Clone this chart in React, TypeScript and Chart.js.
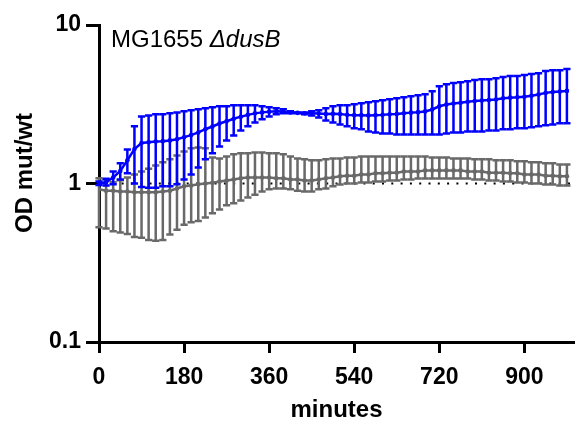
import React, { useEffect, useRef } from "react";
import { Chart, registerables } from "chart.js";

Chart.register(...registerables);

// ---- data ----
const minutes = [
  0, 15, 30, 45, 60, 75, 90, 105, 120, 135, 150, 165, 180, 195, 210, 225, 240, 255, 270, 285,
  300, 315, 330, 345, 360, 375, 390, 405, 420, 435, 450, 465, 480, 495, 510, 525, 540, 555, 570, 585,
  600, 615, 630, 645, 660, 675, 690, 705, 720, 735, 750, 765, 780, 795, 810, 825, 840, 855, 870, 885,
  900, 915, 930, 945, 960, 975, 990,
];

const dusBMean = [
  1.0, 1.02, 1.09, 1.2, 1.4, 1.65, 1.8, 1.82, 1.84, 1.85,
  1.87, 1.9, 1.96, 2.02, 2.1, 2.2, 2.29, 2.39, 2.47, 2.56,
  2.64, 2.71, 2.77, 2.81, 2.84, 2.86, 2.85, 2.81, 2.79, 2.77,
  2.77, 2.76, 2.74, 2.75, 2.74, 2.71, 2.7, 2.7, 2.69, 2.7,
  2.71, 2.73, 2.74, 2.77, 2.8, 2.82, 2.85, 2.93, 3.07, 3.15,
  3.2, 3.23, 3.28, 3.31, 3.34, 3.36, 3.39, 3.45, 3.48, 3.5,
  3.53, 3.58, 3.64, 3.73, 3.78, 3.8, 3.84,
];
const dusBUpper = [
  1.03, 1.07, 1.19, 1.34, 1.64, 2.3, 2.65, 2.69, 2.73, 2.73,
  2.77, 2.81, 2.86, 2.9, 2.94, 2.98, 3.03, 3.07, 3.07, 3.12,
  3.12, 3.12, 3.12, 3.07, 3.03, 2.98, 2.94, 2.86, 2.81, 2.81,
  2.86, 2.9, 2.98, 3.07, 3.12, 3.12, 3.16, 3.21, 3.26, 3.3,
  3.35, 3.4, 3.45, 3.5, 3.55, 3.61, 3.66, 3.82, 4.11, 4.23,
  4.3, 4.36, 4.42, 4.49, 4.55, 4.55, 4.62, 4.69, 4.76, 4.76,
  4.83, 4.9, 4.97, 5.12, 5.19, 5.19, 5.27,
];
const dusBLower = [
  0.98, 0.97, 0.99, 1.06, 1.16, 1.0, 0.95, 0.94, 0.94, 0.96,
  0.96, 0.99, 1.06, 1.14, 1.26, 1.42, 1.55, 1.71, 1.87, 2.01,
  2.16, 2.3, 2.43, 2.54, 2.65, 2.73, 2.77, 2.77, 2.77, 2.73,
  2.69, 2.61, 2.5, 2.43, 2.36, 2.3, 2.23, 2.2, 2.13, 2.1,
  2.07, 2.07, 2.04, 2.04, 2.04, 2.04, 2.04, 2.04, 2.04, 2.07,
  2.1, 2.1, 2.13, 2.13, 2.13, 2.16, 2.16, 2.2, 2.2, 2.23,
  2.23, 2.26, 2.3, 2.33, 2.36, 2.4, 2.4,
];

const wtMean = [
  0.92, 0.9, 0.9, 0.89, 0.89, 0.88, 0.88, 0.88, 0.88, 0.89,
  0.9, 0.93, 0.96, 0.97, 0.99, 1.0, 1.01, 1.03, 1.045, 1.06,
  1.08, 1.09, 1.09, 1.09, 1.09, 1.08, 1.08, 1.06, 1.06, 1.045,
  1.045, 1.06, 1.08, 1.09, 1.11, 1.12, 1.12, 1.14, 1.14, 1.16,
  1.16, 1.17, 1.17, 1.19, 1.19, 1.19, 1.21, 1.21, 1.21, 1.21,
  1.21, 1.21, 1.19, 1.19, 1.19, 1.17, 1.17, 1.17, 1.16, 1.16,
  1.14, 1.14, 1.14, 1.12, 1.12, 1.11, 1.11,
];
const wtUpper = [
  1.08, 1.05, 1.02, 1.05, 1.09, 1.14, 1.19, 1.24, 1.3, 1.36,
  1.42, 1.5, 1.59, 1.67, 1.69, 1.67, 1.46, 1.44, 1.48, 1.53,
  1.55, 1.55, 1.57, 1.57, 1.55, 1.55, 1.53, 1.48, 1.44, 1.42,
  1.4, 1.4, 1.42, 1.44, 1.44, 1.46, 1.46, 1.48, 1.48, 1.48,
  1.48, 1.48, 1.48, 1.48, 1.48, 1.48, 1.48, 1.46, 1.46, 1.46,
  1.44, 1.44, 1.44, 1.42, 1.42, 1.42, 1.4, 1.4, 1.4, 1.38,
  1.38, 1.36, 1.36, 1.34, 1.34, 1.32, 1.32,
];
const wtLower = [
  0.53, 0.52, 0.5, 0.49, 0.48, 0.46, 0.455, 0.44, 0.436, 0.44,
  0.476, 0.51, 0.55, 0.57, 0.58, 0.61, 0.65, 0.685, 0.73, 0.75,
  0.78, 0.815, 0.85, 0.89, 0.92, 0.93, 0.93, 0.92, 0.9, 0.89,
  0.89, 0.92, 0.93, 0.96, 0.986, 1.0, 1.0, 1.015, 1.015, 1.03,
  1.03, 1.045, 1.045, 1.06, 1.06, 1.076, 1.076, 1.076, 1.076, 1.076,
  1.076, 1.076, 1.076, 1.06, 1.06, 1.045, 1.045, 1.03, 1.03, 1.015,
  1.015, 1.0, 1.0, 0.986, 0.986, 0.97, 0.97,
];

const xTicks = [0, 180, 360, 540, 720, 900];
const yTicks = [0.1, 1, 10];
const referenceLine = 1;
const strainLabel = "MG1655 ";
const mutantLabel = "ΔdusB";
const xTitle = "minutes";
const yTitle = "OD mut/wt";

const BLUE = "#0000ff";
const GRAY = "#696969";
const FONT = "'Liberation Sans', Arial, Helvetica, sans-serif";

const errorBarsPlugin = {
  id: "errorBars",
  beforeDatasetDraw(chart: any, args: any) {
    const ds = chart.data.datasets[args.index];
    if (!ds.upperValues) return;
    const xs = chart.scales.x;
    const ys = chart.scales.y;
    const ctx = chart.ctx;
    ctx.save();
    ctx.strokeStyle = ds.borderColor;
    ctx.lineWidth = 2.5;
    const cap = 3.6;
    ds.data.forEach((pt: any, i: number) => {
      const px = xs.getPixelForValue(pt.x);
      const pu = ys.getPixelForValue(ds.upperValues[i]);
      const pl = ys.getPixelForValue(ds.lowerValues[i]);
      ctx.beginPath();
      ctx.moveTo(px, pu);
      ctx.lineTo(px, pl);
      ctx.moveTo(px - cap, pu);
      ctx.lineTo(px + cap, pu);
      ctx.moveTo(px - cap, pl);
      ctx.lineTo(px + cap, pl);
      ctx.stroke();
    });
    ctx.restore();
  },
};

const decorPlugin = {
  id: "decor",
  beforeDatasetsDraw(chart: any) {
    const { ctx, chartArea } = chart;
    const y = chart.scales.y.getPixelForValue(referenceLine);
    ctx.save();
    ctx.strokeStyle = "#000";
    ctx.lineWidth = 2;
    ctx.setLineDash([2, 7.3]);
    ctx.beginPath();
    ctx.moveTo(chartArea.left + 4, y);
    ctx.lineTo(chartArea.right, y);
    ctx.stroke();
    ctx.restore();
  },
  afterDraw(chart: any) {
    const { ctx, chartArea } = chart;
    ctx.save();
    ctx.fillStyle = "#000";
    ctx.textBaseline = "alphabetic";
    ctx.textAlign = "left";
    ctx.font = `24px ${FONT}`;
    const x0 = chartArea.left + 12;
    const base = 47;
    ctx.fillText(strainLabel, x0, base);
    const w = ctx.measureText(strainLabel).width;
    ctx.font = `italic 24px ${FONT}`;
    ctx.fillText(mutantLabel, x0 + w, base);
    // y title
    ctx.font = `bold 24px ${FONT}`;
    ctx.translate(25, 173);
    ctx.rotate(-Math.PI / 2);
    ctx.textAlign = "center";
    ctx.textBaseline = "middle";
    ctx.fillText(yTitle, 0, 0);
    ctx.restore();
  },
};

export default function App() {
  const ref = useRef<HTMLCanvasElement | null>(null);

  useEffect(() => {
    if (!ref.current) return;
    const mk = (vals: number[]) => minutes.map((m, i) => ({ x: m, y: vals[i] }));
    const chart = new Chart(ref.current, {
      type: "line",
      data: {
        datasets: [
          {
            label: "dusB",
            data: mk(dusBMean),
            borderColor: BLUE,
            backgroundColor: BLUE,
            borderWidth: 2.5,
            pointRadius: 2.3,
            pointBorderWidth: 0,
            tension: 0,
            order: 0,
            upperValues: dusBUpper,
            lowerValues: dusBLower,
          } as any,
          {
            label: "wt",
            data: mk(wtMean),
            borderColor: GRAY,
            backgroundColor: GRAY,
            borderWidth: 2.5,
            pointRadius: 2.3,
            pointBorderWidth: 0,
            tension: 0,
            order: 1,
            upperValues: wtUpper,
            lowerValues: wtLower,
          } as any,
        ],
      },
      options: {
        animation: false,
        responsive: false,
        maintainAspectRatio: false,
        layout: { padding: { top: 25, left: 0, right: 0, bottom: 0 } },
        plugins: {
          legend: { display: false },
          tooltip: { enabled: false },
          title: { display: false },
        },
        scales: {
          x: {
            type: "linear",
            min: 0,
            max: 1005,
            afterBuildTicks: (s: any) => {
              s.ticks = xTicks.map((v) => ({ value: v }));
            },
            afterFit: (s: any) => {
              s.height = 83;
            },
            border: { display: true, color: "#000", width: 3 },
            grid: {
              display: true,
              drawOnChartArea: false,
              drawTicks: true,
              tickLength: 11,
              tickWidth: 3,
              tickColor: "#000",
            },
            ticks: {
              color: "#000",
              font: { family: FONT, size: 23, weight: "bold" },
              padding: 11,
              maxRotation: 0,
              autoSkip: false,
            },
            title: {
              display: true,
              text: xTitle,
              color: "#000",
              font: { family: FONT, size: 24, weight: "bold" },
              padding: { top: 2, bottom: 0 },
            },
          },
          y: {
            type: "logarithmic",
            min: 0.1,
            max: 10,
            afterBuildTicks: (s: any) => {
              s.ticks = yTicks.map((v) => ({ value: v }));
            },
            afterFit: (s: any) => {
              s.width = 99;
            },
            border: { display: true, color: "#000", width: 3 },
            grid: {
              display: true,
              drawOnChartArea: false,
              drawTicks: true,
              tickLength: 13,
              tickWidth: 3,
              tickColor: "#000",
            },
            ticks: {
              color: "#000",
              font: { family: FONT, size: 23, weight: "bold" },
              padding: 5,
              autoSkip: false,
              callback: (v: any) => String(v),
            },
          },
        },
      },
      plugins: [errorBarsPlugin, decorPlugin],
    } as any);
    return () => chart.destroy();
  }, []);

  return (
    <div style={{ position: "fixed", left: 0, top: 0, width: 578, height: 425, background: "#fff" }}>
      <canvas ref={ref} width={578} height={425} style={{ width: 578, height: 425, display: "block" }} />
    </div>
  );
}
